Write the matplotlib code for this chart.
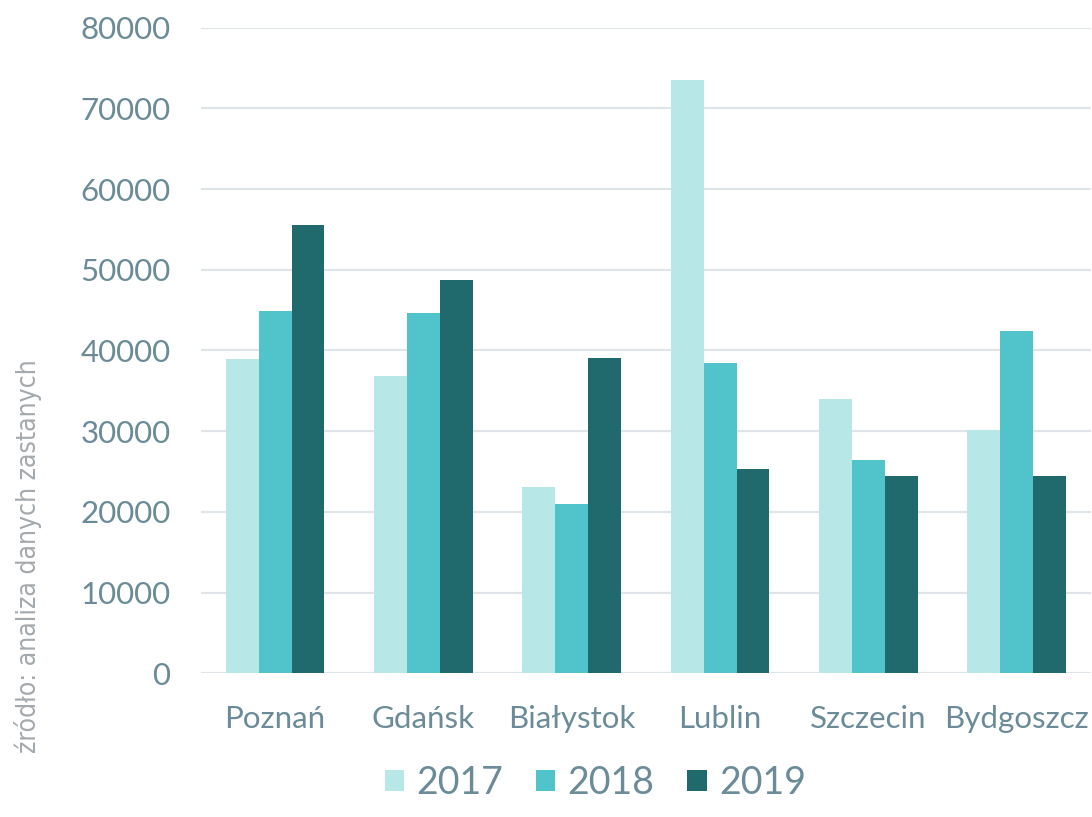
import numpy as np
import matplotlib.pyplot as plt
from matplotlib import font_manager

cities = ['Poznań', 'Gdańsk', 'Białystok', 'Lublin', 'Szczecin', 'Bydgoszcz']
years = ['2017', '2018', '2019']
v2017 = [39000, 36900, 23100, 73500, 34000, 30100]
v2018 = [44900, 44600, 21000, 38500, 26400, 42400]
v2019 = [55600, 48700, 39100, 25300, 24500, 24400]
colors = ['#b8e7e8', '#51c3ca', '#20696d']

plt.rcParams['font.family'] = ['Lato', 'DejaVu Sans']
text_col = '#6a8b97'

# condensed face for the source note, if the system has one
cond = [f for f in font_manager.fontManager.ttflist
        if f.name == 'DejaVu Sans' and f.stretch == 'condensed' and f.weight in (400, 'normal')
        and f.style == 'normal']
if cond:
    src_font = dict(family='DejaVu Sans', stretch='condensed', fontsize=19)
else:
    src_font = dict(family='Lato', fontsize=20)

fig = plt.figure(figsize=(10.92, 8.17), dpi=100)
ax = fig.add_axes([0.184, 0.176, 0.815, 0.79])

x = np.arange(len(cities))
w = 0.222
for i, (vals, c, lab) in enumerate(zip([v2017, v2018, v2019], colors, years)):
    ax.bar(x + (i - 1) * w, vals, width=w, color=c, label=lab, zorder=3)

ax.set_xlim(-0.5, len(cities) - 0.5)
ax.set_ylim(0, 80000)
ax.set_yticks(np.arange(0, 80001, 10000))
ax.set_xticks(x)
ax.set_xticklabels(cities)
ax.grid(axis='y', color='#dfe4e8', linewidth=1.6, zorder=0)
ax.set_axisbelow(True)
for s in ax.spines.values():
    s.set_visible(False)
ax.tick_params(axis='y', length=0, labelsize=22.5, colors=text_col, pad=22)
ax.tick_params(axis='x', length=0, labelsize=22.5, colors=text_col, pad=23)

leg = ax.legend(loc='lower center', bbox_to_anchor=(0.443, -0.25), ncol=3, frameon=False,
                fontsize=27, handlelength=0.52, handleheight=0.52, handletextpad=0.32,
                columnspacing=0.88, labelcolor=text_col)

fig.text(0.026, 0.56, 'źródło: analiza danych zastanych', rotation=90, ha='center', va='top',
         color='#a3a9ad', **src_font)

fig.savefig('out.png', dpi=100)
